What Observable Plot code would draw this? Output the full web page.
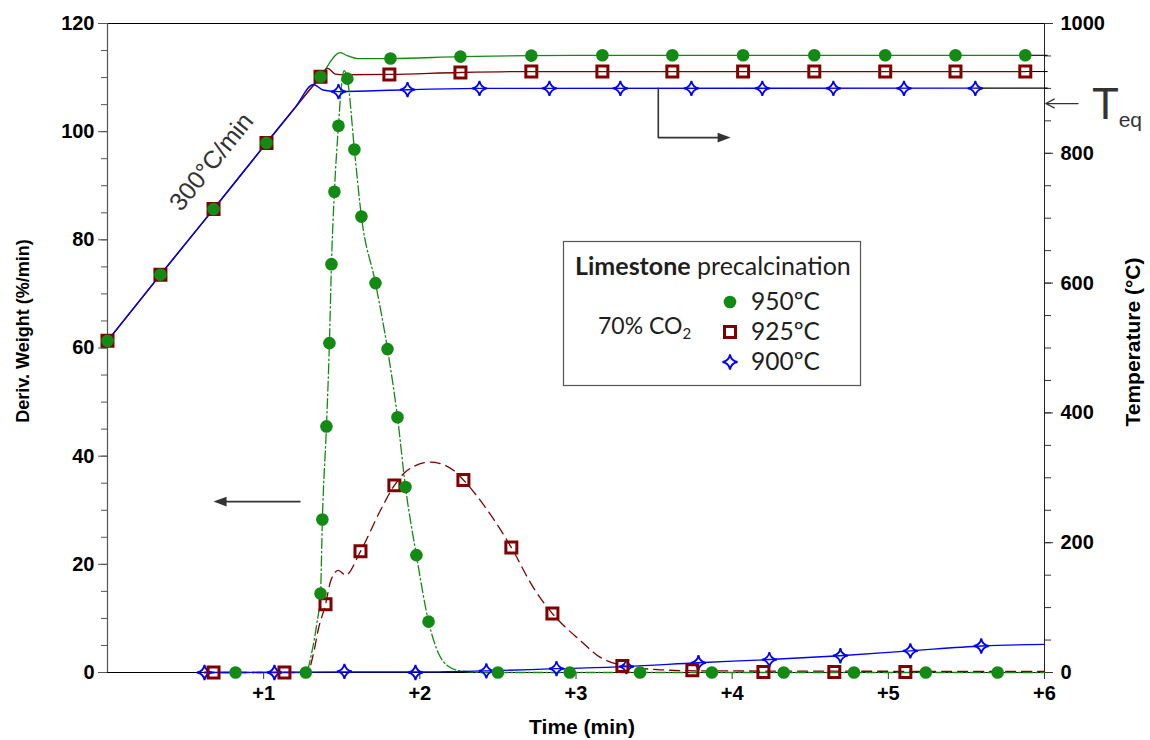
<!DOCTYPE html>
<html><head><meta charset="utf-8">
<script src="https://cdn.jsdelivr.net/npm/d3@7"></script>
<script src="https://cdn.jsdelivr.net/npm/@observablehq/plot@0.6"></script>
<style>
body{margin:0;background:#fff;}
#wrap{position:relative;width:1150px;height:740px;overflow:hidden;}
#wrap svg{display:block;}
#legend{position:absolute;left:0;top:0;pointer-events:none;}
</style></head><body><div id="wrap"></div>
<script>
// ---------- data (time in min; temperatures in °C; DTG in %/min) ----------
const seriesNames = ["950ºC", "925ºC", "900ºC"];
const seriesColors = ["#138a13", "#800000", "#0000ff"];

const tempGreen = [[0,511],[0.339,613],[0.679,714],[1.018,816],[1.364,918],[1.49,955],[1.54,950],[1.60,946],[1.81,946],[2.26,949],[2.71,950.5],[3.6,951],[5.88,951]];
const tempRed   = [[0,511],[0.339,613],[0.679,714],[1.018,816],[1.364,918],[1.41,931],[1.46,922],[1.52,921],[1.81,921.5],[2.26,924.5],[2.71,926],[3.6,926],[5.88,926]];
const tempBlue  = [[0,511],[0.339,613],[0.679,714],[1.018,816],[1.20,870],[1.319,906],[1.38,897.5],[1.48,895],[1.92,898],[2.38,900],[5.56,900.5]];

const tempGreenMarkers = [[0,511],[0.339,613],[0.679,714],[1.018,816],[1.364,918],[1.812,946],[2.26,949],[2.714,950.5],[3.169,951],[3.617,951],[4.07,951],[4.526,951],[4.98,951],[5.43,951],[5.877,951]];
const tempRedMarkers   = [[0,511],[0.339,613],[0.679,714],[1.018,816],[1.364,918],[1.805,921.5],[2.26,924.5],[2.714,926],[3.169,926],[3.617,926],[4.07,926],[4.526,926],[4.98,926],[5.43,926],[5.877,926]];
const tempBlueMarkers  = [[1.479,895],[1.921,898],[2.382,900],[2.83,900],[3.284,900],[3.739,900],[4.193,900],[4.648,900],[5.10,900],[5.557,900]];

const dtgGreen = [[0.62,0],[1.27,0],[1.31,4],[1.34,9],[1.364,14.6],[1.376,28.3],[1.402,45.5],[1.421,60.9],[1.434,75.5],[1.453,88.9],[1.479,101.1],[1.50,109],[1.515,111.3],[1.536,109.8],[1.581,96.7],[1.626,84.3],[1.716,72.0],[1.793,59.8],[1.857,47.2],[1.908,34.3],[1.978,21.7],[2.056,9.4],[2.12,3.5],[2.18,1.2],[2.26,0.3],[2.4,0],[6,0]];
const dtgRed   = [[0.62,0],[1.28,0],[1.319,3.5],[1.35,8],[1.396,12.6],[1.43,17],[1.479,18.9],[1.524,18.0],[1.62,22.4],[1.748,30.0],[1.837,34.6],[1.921,37.4],[2.068,38.9],[2.215,37.4],[2.279,35.6],[2.433,30.0],[2.586,23.1],[2.727,15.7],[2.849,10.9],[3.028,5.9],[3.156,2.8],[3.297,1.3],[3.54,0.5],[3.8,0.3],[6,0.2]];
const dtgBlue  = [[0.62,0],[1.5,0.1],[2.0,0.1],[2.43,0.3],[2.87,0.7],[3.32,1.1],[3.78,1.8],[4.24,2.4],[4.69,3.1],[5.14,4.0],[5.6,4.9],[6,5.2]];

const dtgGreenMarkers = [[0.82,0],[1.27,0],[1.364,14.6],[1.376,28.3],[1.402,45.5],[1.421,60.9],[1.434,75.5],[1.453,88.9],[1.479,101.1],[1.536,109.8],[1.581,96.7],[1.626,84.3],[1.716,72.0],[1.793,59.8],[1.857,47.2],[1.908,34.3],[1.978,21.7],[2.056,9.4],[2.50,0],[2.96,0],[3.41,0],[3.87,0],[4.33,0],[4.78,0],[5.24,0],[5.70,0]];
const dtgRedMarkers   = [[0.679,0],[1.133,0],[1.396,12.6],[1.62,22.4],[1.837,34.6],[2.279,35.6],[2.586,23.1],[2.849,10.9],[3.297,1.2],[3.745,0.4],[4.20,0.1],[4.654,0.1],[5.109,0.1]];
const dtgBlueMarkers  = [[0.621,0],[1.069,0],[1.517,0.2],[1.972,0],[2.426,0.3],[2.875,0.7],[3.323,1.1],[3.784,1.8],[4.238,2.4],[4.693,3.1],[5.141,4.0],[5.595,4.9]];

const xTicks = [1, 2, 3, 4, 5, 6];
const yTicks = [0, 20, 40, 60, 80, 100, 120];
const tempTicks = [0, 200, 400, 600, 800, 1000];

// ---------- helpers ----------
const T2Y = 120 / 1000;   // right axis (°C) mapped onto left axis units
const font = "'Liberation Sans', Arial, Helvetica, sans-serif";
const [cG, cR, cB] = seriesColors;

const star4 = {
  draw(ctx, size) {
    const r = Math.sqrt(size / Math.PI), c = r * 0.14;
    ctx.moveTo(0, -r);
    ctx.quadraticCurveTo(c, -c, r, 0);
    ctx.quadraticCurveTo(c, c, 0, r);
    ctx.quadraticCurveTo(-c, c, -r, 0);
    ctx.quadraticCurveTo(-c, -c, 0, -r);
    ctx.closePath();
  }
};
const headLeft = {
  draw(ctx, size) {
    const r = Math.sqrt(size / Math.PI);
    ctx.moveTo(0, 0); ctx.lineTo(2 * r, -0.75 * r); ctx.lineTo(2 * r, 0.75 * r); ctx.closePath();
  }
};
const headRight = {
  draw(ctx, size) {
    const r = Math.sqrt(size / Math.PI);
    ctx.moveTo(0, 0); ctx.lineTo(-2 * r, -0.75 * r); ctx.lineTo(-2 * r, 0.75 * r); ctx.closePath();
  }
};

const tx = d => d[0];
const ty = d => d[1];
const tt = d => d[1] * T2Y;
const lastOf = s => s[s.length - 1];
const tempEnds = [tempGreen, tempRed, tempBlue].map(lastOf);

const chart = Plot.plot({
  width: 1150,
  height: 740,
  marginLeft: 107,
  marginRight: 106,
  marginTop: 23,
  marginBottom: 68,
  style: {fontFamily: font, fontSize: "20px", color: "#000", background: "#fff", overflow: "visible"},
  x: {domain: [0, 6]},
  y: {domain: [0, 120]},
  marks: [
    // frame lines
    Plot.ruleY([120], {stroke: "#000", strokeWidth: 1}),
    Plot.ruleX([0], {stroke: "#555", strokeWidth: 1.2}),
    Plot.ruleX([6], {stroke: "#222", strokeWidth: 1}),
    // axes
    Plot.axisY(d3.range(0, 121, 5), {anchor: "left", tickSize: 6, tickFormat: () => "", stroke: "#555", label: null}),
    Plot.axisY(yTicks, {anchor: "left", tickSize: 9, tickPadding: 4, stroke: "#555", fontSize: 20, fontWeight: "bold", fill: "#000", label: null}),
    Plot.axisY(d3.range(0, 1001, 50).map(t => t * T2Y), {anchor: "right", tickSize: 6, tickFormat: () => "", stroke: "#333", label: null}),
    Plot.axisY(tempTicks.map(t => t * T2Y), {anchor: "right", tickSize: 8, tickPadding: 8, tickFormat: v => String(Math.round(v / T2Y)), stroke: "#333", fontSize: 20, fontWeight: "bold", fill: "#000", label: null}),
    Plot.axisX(xTicks, {anchor: "bottom", tickSize: 7, tickPadding: 6, tickFormat: d => "+" + d, stroke: "#333", fontSize: 20, fontWeight: "bold", fill: "#000", label: null}),
    Plot.ruleY([0], {stroke: "#000", strokeWidth: 1.2}),
    // temperature curves (right axis)
    Plot.line(tempGreen, {x: tx, y: tt, stroke: cG, strokeWidth: 1.3, curve: "monotone-x"}),
    Plot.line(tempRed, {x: tx, y: tt, stroke: cR, strokeWidth: 1.3, curve: "monotone-x"}),
    Plot.line(tempBlue, {x: tx, y: tt, stroke: cB, strokeWidth: 1.4, curve: "monotone-x"}),
    Plot.link(tempEnds, {x1: tx, x2: 6.02, y1: tt, y2: tt, stroke: "#000", strokeWidth: 1.1}),
    // DTG curves (left axis)
    Plot.line(dtgGreen, {x: tx, y: ty, stroke: cG, strokeWidth: 1.3, strokeDasharray: "10,3,1.5,3", curve: "monotone-x"}),
    Plot.line(dtgRed, {x: tx, y: ty, stroke: cR, strokeWidth: 1.3, strokeDasharray: "10,6", curve: "monotone-x"}),
    Plot.line(dtgBlue, {x: tx, y: ty, stroke: cB, strokeWidth: 1.3, curve: "monotone-x"}),
    // markers
    Plot.dot(tempBlueMarkers, {x: tx, y: tt, symbol: star4, r: 7.5, stroke: cB, strokeWidth: 1.8, fill: "none"}),
    Plot.dot(dtgBlueMarkers, {x: tx, y: ty, symbol: star4, r: 7.5, stroke: cB, strokeWidth: 1.8, fill: "none"}),
    Plot.dot(tempRedMarkers, {x: tx, y: tt, symbol: "square", r: 6.2, stroke: cR, strokeWidth: 3, fill: "none"}),
    Plot.dot(dtgRedMarkers, {x: tx, y: ty, symbol: "square", r: 6.2, stroke: cR, strokeWidth: 3, fill: "none"}),
    Plot.dot(tempGreenMarkers, {x: tx, y: tt, r: 6.3, fill: cG, stroke: "none"}),
    Plot.dot(dtgGreenMarkers, {x: tx, y: ty, r: 6.3, fill: cG, stroke: "none"}),
    // annotations
    Plot.text(["300°C/min"], {x: 0.666, y: 94.4, rotate: -51, fontSize: 25, fill: "#333", fontWeight: "normal", lineAnchor: "middle", textAnchor: "middle"}),
    Plot.link([0], {x1: 1.236, x2: 0.70, y1: 31.6, y2: 31.6, stroke: "#333", strokeWidth: 1.6}),
    Plot.dot([0], {x: 0.679, y: 31.6, symbol: headLeft, r: 6.5, fill: "#333", stroke: "none"}),
    Plot.line([[3.527, 108], [3.527, 98.9], [3.96, 98.9]], {x: tx, y: ty, stroke: "#333", strokeWidth: 1.6}),
    Plot.dot([0], {x: 3.99, y: 98.9, symbol: headRight, r: 6.5, fill: "#333", stroke: "none"}),
    Plot.arrow([0], {x1: 6.215, y1: 105.2, x2: 6.008, y2: 105.2, stroke: "#333", strokeWidth: 1.3, headLength: 11, headAngle: 55}),
    Plot.text(["T"], {x: 6.39, y: 105, fontSize: 44, fill: "#333", fontWeight: "normal", lineAnchor: "middle", textAnchor: "middle"}),
    Plot.text(["eq"], {x: 6.475, y: 100.9, fontSize: 21, fill: "#333", fontWeight: "normal", lineAnchor: "bottom", textAnchor: "start"}),
    // axis titles
    Plot.text(["Time (min)"], {frameAnchor: "bottom", dx: 6, dy: 61, fontSize: 21, fontWeight: "bold", fill: "#000", lineAnchor: "bottom", textAnchor: "middle"}),
    Plot.text(["Deriv. Weight (%/min)"], {frameAnchor: "left", dx: -84, dy: -17, rotate: -90, fontSize: 18, fontWeight: "bold", fill: "#000", lineAnchor: "middle", textAnchor: "middle"}),
    Plot.text(["Temperature (°C)"], {frameAnchor: "right", dx: 89, dy: -6, rotate: -90, fontSize: 21, fontWeight: "bold", fill: "#000", lineAnchor: "middle", textAnchor: "middle"})
  ]
});
const wrap = document.getElementById("wrap");
wrap.appendChild(chart);

// ---------- legend (overlay) ----------
const lg = d3.select(wrap).append("svg").attr("id", "legend").attr("width", 1150).attr("height", 740);
const lfont = "Lato, 'Open Sans', sans-serif";
const g = lg.append("g").attr("transform", "translate(563,241)");
g.append("rect").attr("x", 0.5).attr("y", 0.5).attr("width", 297).attr("height", 144)
  .attr("fill", "#fff").attr("stroke", "#555").attr("stroke-width", 1.2);
const title = g.append("text").attr("x", 12).attr("y", 34).attr("font-family", lfont).attr("font-size", 25).attr("fill", "#1e1e1e");
title.append("tspan").attr("font-weight", "bold").text("Limestone");
title.append("tspan").text(" precalcination");
const co2 = g.append("text").attr("x", 35).attr("y", 93).attr("font-family", lfont).attr("font-size", 23).attr("fill", "#1e1e1e");
co2.append("tspan").text("70% CO");
co2.append("tspan").attr("font-size", 15).attr("dy", 5).text("2");
const legSymbols = [d3.symbol(d3.symbolCircle, Math.PI * 6.3 * 6.3)(), d3.symbol(d3.symbolSquare, Math.PI * 6.2 * 6.2)(), d3.symbol(star4, Math.PI * 7.5 * 7.5)()];
const legFill = [cG, "none", "none"];
const legStroke = ["none", cR, cB];
const legSW = [0, 3, 1.8];
seriesNames.forEach((name, i) => {
  const cy = 61 + i * 30;
  g.append("path").attr("d", legSymbols[i]).attr("transform", `translate(167,${cy})`)
    .attr("fill", legFill[i]).attr("stroke", legStroke[i]).attr("stroke-width", legSW[i]);
  g.append("text").attr("x", 188).attr("y", cy + 8).attr("font-family", lfont).attr("font-size", 24.5)
    .attr("fill", "#1e1e1e").text(name);
});
</script></body></html>
